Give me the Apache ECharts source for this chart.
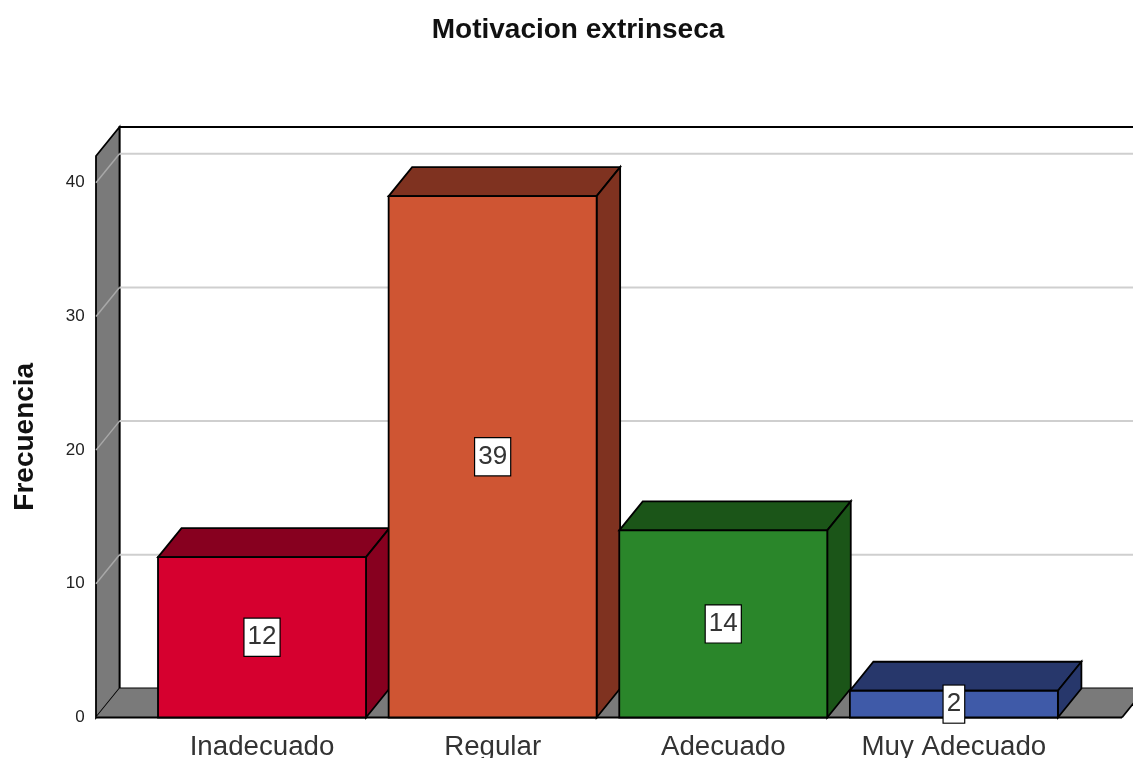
<!DOCTYPE html>
<html>
<head>
<meta charset="utf-8">
<title>Motivacion extrinseca</title>
<script src="https://cdn.jsdelivr.net/npm/echarts@6/dist/echarts.min.js"></script>
<style>
  html, body { margin: 0; padding: 0; background: #fff; }
  #chart { width: 1133px; height: 758px; }
</style>
</head>
<body>
<div id="chart"></div>
<script>
let categories = ['Inadecuado', 'Regular', 'Adecuado', 'Muy Adecuado']
let frecuencia = [12, 39, 14, 2]
let yTicks = [0, 10, 20, 30, 40]
let frontColors = ['#d6002f', '#cf5533', '#2a862a', '#3f5aa8']
let sideColors = ['#87001f', '#7f3220', '#1b5518', '#27376b']

// profundidad del efecto 3D, en pixeles
let depthX = 23.5
let depthY = 29
let barWidth = 208
let outline = { stroke: '#000', lineWidth: 1.8 }
let wallLeft = 96
let wallRight = 1122
let yMax = 42

function face (points, fill) {
  return { type: 'polygon', shape: { points: points }, style: Object.assign({ fill: fill }, outline) }
}

function renderWalls (params, api) {
  let y0 = api.coord([0, 0])[1]
  let yTop = api.coord([0, yMax])[1]
  let grey = '#7a7a7a'
  return {
    type: 'group',
    children: [
      {
        type: 'polygon',
        shape: { points: [[wallLeft + depthX, yTop - depthY], [wallRight + depthX, yTop - depthY], [wallRight + depthX, y0 - depthY], [wallLeft + depthX, y0 - depthY]] },
        style: Object.assign({ fill: '#fff' }, outline)
      },
      face([[wallLeft, yTop], [wallLeft + depthX, yTop - depthY], [wallLeft + depthX, y0 - depthY], [wallLeft, y0]], grey),
      {
        type: 'polygon',
        shape: { points: [[wallLeft, y0], [wallLeft + depthX, y0 - depthY], [wallRight + depthX, y0 - depthY], [wallRight, y0]] },
        style: { fill: grey, stroke: null }
      },
      { type: 'line', shape: { x1: wallLeft, y1: y0, x2: wallRight, y2: y0 }, style: outline },
      { type: 'line', shape: { x1: wallRight, y1: y0, x2: wallRight + depthX, y2: y0 - depthY }, style: outline }
    ]
  }
}

function renderGridLine (params, api) {
  let value = api.value(1)
  if (value === 0) return { type: 'group', children: [] }
  let y = api.coord([0, value])[1]
  return {
    type: 'group',
    children: [
      { type: 'line', shape: { x1: wallLeft, y1: y, x2: wallLeft + depthX, y2: y - depthY }, style: { stroke: '#a8a8a8', lineWidth: 1.5 } },
      { type: 'line', shape: { x1: wallLeft + depthX, y1: y - depthY, x2: wallRight + depthX, y2: y - depthY }, style: { stroke: '#cfcfcf', lineWidth: 2 } }
    ]
  }
}

function renderBar (params, api) {
  let i = api.value(0)
  let top = api.coord([i, api.value(1)])
  let base = api.coord([i, 0])
  let x1 = top[0] - barWidth / 2
  let x2 = top[0] + barWidth / 2
  let yt = top[1]
  let yb = base[1]
  return {
    type: 'group',
    children: [
      face([[x1, yt], [x1 + depthX, yt - depthY], [x2 + depthX, yt - depthY], [x2, yt]], sideColors[i]),
      face([[x2, yt], [x2 + depthX, yt - depthY], [x2 + depthX, yb - depthY], [x2, yb]], sideColors[i]),
      face([[x1, yt], [x2, yt], [x2, yb], [x1, yb]], frontColors[i])
    ]
  }
}

function renderLabel (params, api) {
  let i = api.value(0)
  let top = api.coord([i, api.value(1)])
  let base = api.coord([i, 0])
  return {
    type: 'text',
    x: top[0],
    y: (top[1] + base[1]) / 2,
    style: {
      text: String(api.value(1)),
      fontFamily: 'Liberation Sans',
      fontSize: 26,
      fill: '#333',
      align: 'center',
      verticalAlign: 'middle',
      backgroundColor: '#fff',
      borderColor: '#000',
      borderWidth: 1.2,
      padding: [6, 3, 5, 3]
    }
  }
}

let chart = echarts.init(document.getElementById('chart'))
chart.setOption({
  animation: false,
  backgroundColor: '#fff',
  title: {
    text: 'Motivacion extrinseca',
    left: 573,
    top: 11,
    textAlign: 'center',
    textStyle: { fontFamily: 'Liberation Sans', fontSize: 28, fontWeight: 'bold', color: '#111' }
  },
  grid: { left: 146.7, top: 156, width: 922.5, height: 561.5, outerBoundsMode: 'none' },
  xAxis: {
    type: 'category',
    data: categories,
    axisLine: { show: false },
    axisTick: { show: false },
    axisLabel: { interval: 0, margin: 16, fontFamily: 'Liberation Sans', fontSize: 27.7, color: '#333' }
  },
  yAxis: {
    type: 'value',
    min: 0,
    max: yMax,
    interval: 10,
    offset: 51,
    name: 'Frecuencia',
    nameLocation: 'middle',
    nameGap: 56,
    nameTextStyle: { fontFamily: 'Liberation Sans', fontSize: 28, fontWeight: 'bold', color: '#111' },
    axisLine: { show: false },
    axisTick: { show: false },
    splitLine: { show: false },
    axisLabel: { showMaxLabel: false, margin: 11, padding: [2, 0, 0, 0], fontFamily: 'Liberation Sans', fontSize: 17, color: '#222' }
  },
  series: [
    { type: 'custom', name: 'paredes', clip: false, z: 1, silent: true, renderItem: renderWalls, encode: { x: 0, y: 1 }, data: [[0, 0]] },
    { type: 'custom', name: 'rejilla', clip: false, z: 2, silent: true, renderItem: renderGridLine, encode: { x: 0, y: 1 }, data: yTicks.map(function (v) { return [0, v] }) },
    { type: 'custom', name: 'Frecuencia', clip: false, z: 3, renderItem: renderBar, encode: { x: 0, y: 1 }, data: frecuencia.map(function (v, i) { return [i, v] }) },
    { type: 'custom', name: 'etiquetas', clip: false, z: 4, silent: true, renderItem: renderLabel, encode: { x: 0, y: 1 }, data: frecuencia.map(function (v, i) { return [i, v] }) }
  ]
})
</script>
</body>
</html>
